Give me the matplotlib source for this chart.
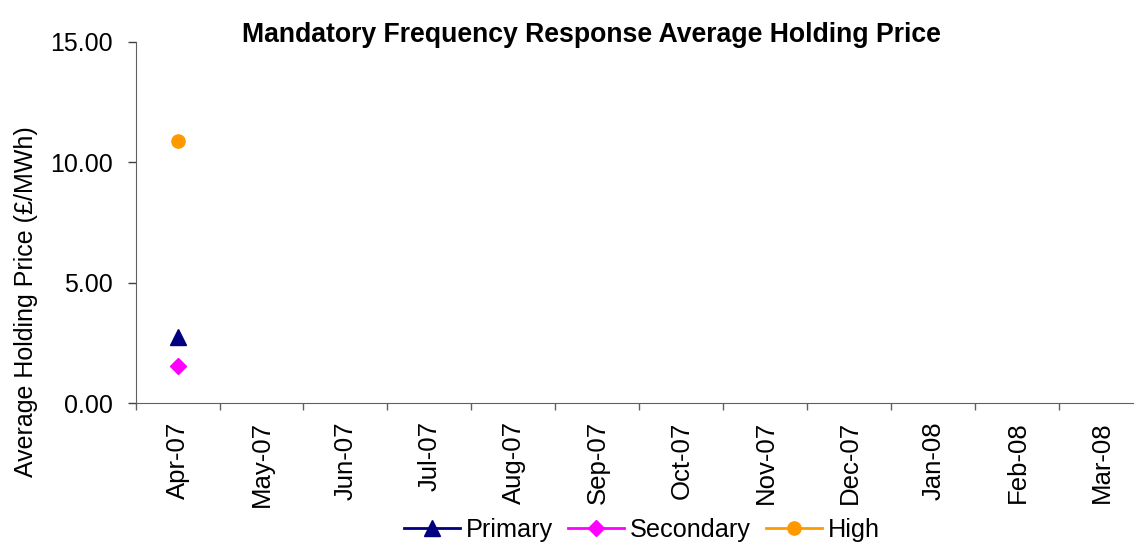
import numpy as np
import matplotlib
matplotlib.use("Agg")
import matplotlib.pyplot as plt
from matplotlib.lines import Line2D

months = ["Apr-07", "May-07", "Jun-07", "Jul-07", "Aug-07", "Sep-07",
          "Oct-07", "Nov-07", "Dec-07", "Jan-08", "Feb-08", "Mar-08"]
primary = [2.74] + [np.nan] * 11
secondary = [1.55] + [np.nan] * 11
high = [10.88] + [np.nan] * 11

plt.rcParams['font.family'] = ['Liberation Sans', 'DejaVu Sans']

W, H = 1134, 545
fig = plt.figure(figsize=(W / 100, H / 100), dpi=100)
left, right, top, bottom = 135.5, 1143.5, 41.7, 403.3
ax = fig.add_axes([left / W, 1 - bottom / H, (right - left) / W, (bottom - top) / H])

x = np.arange(len(months))
ax.plot(x, primary, color='#000080', marker='^', markersize=11.5, linewidth=2)
ax.plot(x, secondary, color='#FF00FF', marker='D', markersize=8.5, linewidth=2)
ax.plot(x, high, color='#FF9900', marker='o', markersize=9.5, linewidth=2)

ax.set_xlim(-0.5, len(months) - 0.5)
ax.set_ylim(0, 15)
ax.set_yticks([0, 5, 10, 15])
ax.set_yticklabels([f"{v:.2f}" for v in [0, 5, 10, 15]], fontsize=18)
ax.set_xticks(x)
ax.set_xticklabels(months, rotation=90, fontsize=18.5)
ax.set_xticks(np.arange(len(months) + 1) - 0.5, minor=True)
ax.tick_params(axis='x', which='major', length=0, pad=13)
ax.tick_params(axis='x', which='minor', length=5, width=1, color='#606060', direction='out')
ax.tick_params(axis='y', length=6, width=1, color='#404040', direction='out', pad=10.5)

for s in ['top', 'right']:
    ax.spines[s].set_visible(False)
ax.spines['left'].set_color('#606060')
ax.spines['bottom'].set_color('#606060')

ax.set_ylabel("Average Holding Price (£/MWh)", fontsize=18, va='center')
ax.yaxis.set_label_coords((26 - left) / (right - left), (bottom - 302) / (bottom - top))
fig.text(591 / W, 1 - 41.7 / H, "Mandatory Frequency Response Average Holding Price",
         ha='center', va='baseline', fontsize=19.2, fontweight='bold')

handles = [
    Line2D([], [], color='#000080', marker='^', markersize=11.5, linewidth=2),
    Line2D([], [], color='#FF00FF', marker='D', markersize=8.5, linewidth=2),
    Line2D([], [], color='#FF9900', marker='o', markersize=9.5, linewidth=2),
]
fig.legend(handles, ["Primary", "Secondary", "High"], loc='center',
           bbox_to_anchor=(642 / W, 1 - 530 / H), ncol=3, frameon=False,
           fontsize=18.2, handlelength=2.2, handletextpad=0.25, columnspacing=0.6,
           borderpad=0, borderaxespad=0)

fig.savefig("out.png", dpi=100)
